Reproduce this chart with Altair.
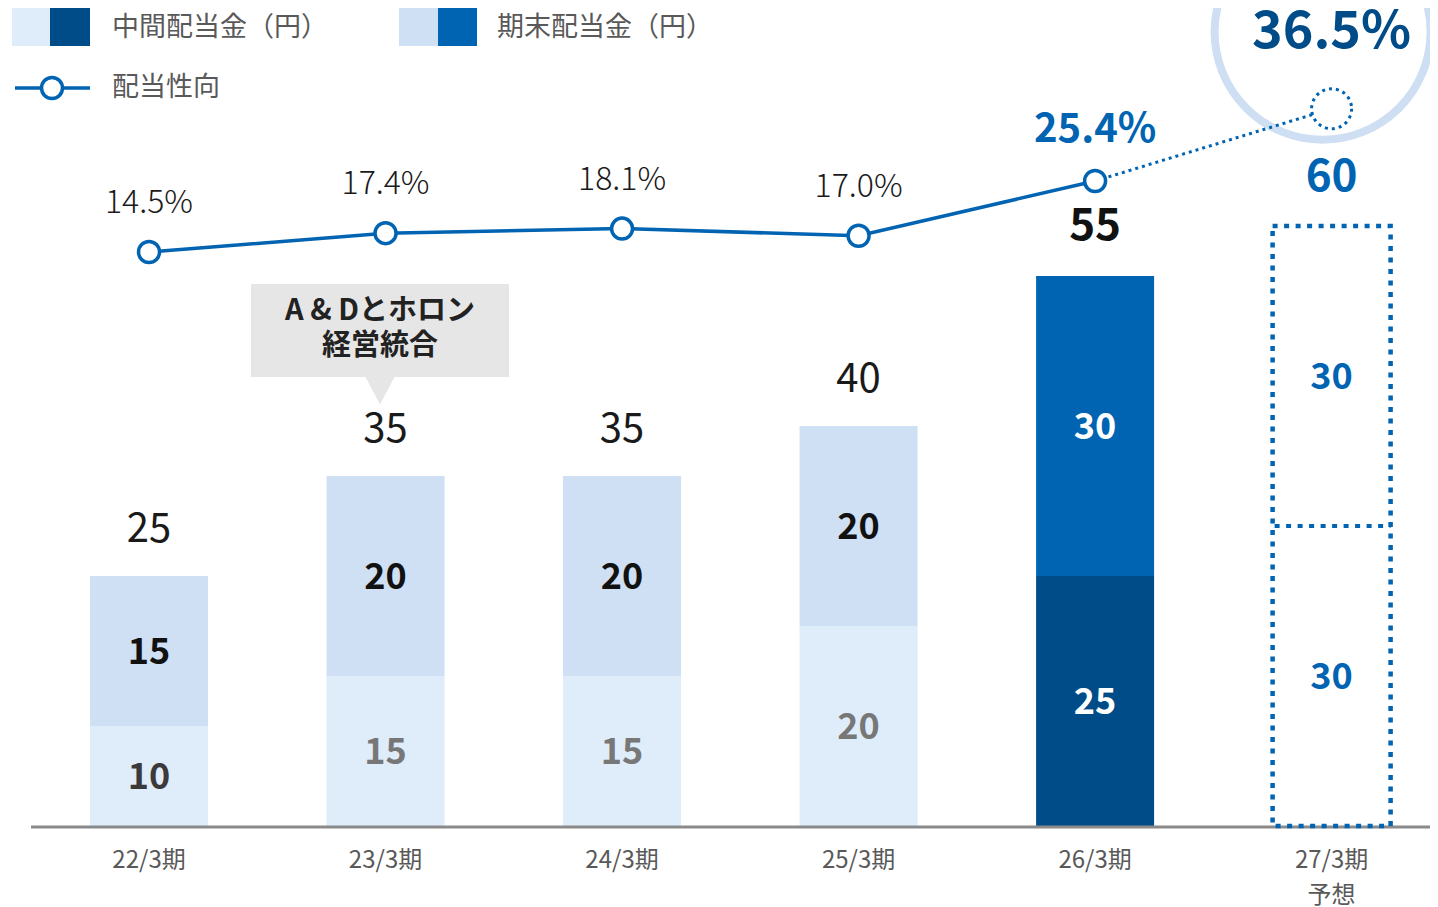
import altair as alt
import pandas as pd

# ---------------- data ----------------
periods = ["22/3期", "23/3期", "24/3期", "25/3期", "26/3期", "27/3期\n予想"]
interim = [10, 15, 15, 20, 25, 30]        # 中間配当金（円）
year_end = [15, 20, 20, 20, 30, 30]       # 期末配当金（円）
totals = [25, 35, 35, 40, 55, 60]
payout = [14.5, 17.4, 18.1, 17.0, 25.4, 36.5]   # 配当性向 (%)
legend_labels = ["中間配当金（円）", "期末配当金（円）", "配当性向"]
note_lines = ["A & Dとホロン", "経営統合"]

# ---------------- styles ----------------
FONT = "Noto Sans CJK JP"
BLUE = "#0064b2"
NAVY = "#004c88"
LIGHT1 = "#dfecfa"
LIGHT2 = "#cfdff4"
RING = "#cfdff3"

n = len(periods)
idx = list(range(n))
status = ["past"] * 4 + ["current", "forecast"]

seg_rows = []
for i in idx:
    lo = 0
    for kind, val in (("interim", interim[i]), ("year_end", year_end[i])):
        k = f"{status[i]}_{kind}"
        if k == "past_interim":
            lc = "dark" if i == 0 else "grey"
        elif k == "past_year_end":
            lc = "black"
        elif status[i] == "current":
            lc = "white"
        else:
            lc = "blue"
        seg_rows.append(dict(x=i, lo=lo, hi=lo + val, mid=lo + val / 2,
                             label=str(val), kind=k, lcol=lc))
        lo += val
segs = pd.DataFrame(seg_rows)
segs_actual = segs[segs.x < 5]

pts = pd.DataFrame({"x": idx, "payout": payout,
                    "label": [f"{p:.1f}%" for p in payout], "status": status})
tot = pd.DataFrame({"x": idx, "total": totals, "interim": interim,
                    "label": [str(t) for t in totals], "status": status})
fc = tot[tot.status == "forecast"]
xl = pd.DataFrame({"x": idx, "label": periods})

XS = alt.Scale(domain=[-0.499, 5.416], nice=False, zero=False, padding=0)
YB = alt.Scale(domain=[0, 78], nice=False, zero=False, padding=0)
YR = alt.Scale(domain=[-73.62, 46.13], nice=False, zero=False, padding=0)


def X():
    return alt.X("x:Q", scale=XS, axis=None)


layers = []

# stacked bars
layers.append(
    alt.Chart(segs_actual).mark_bar(size=118).encode(
        x=X(),
        y=alt.Y("lo:Q", scale=YB, axis=None),
        y2="hi:Q",
        color=alt.Color("kind:N", legend=None,
                        scale=alt.Scale(domain=["past_interim", "past_year_end",
                                                "current_interim", "current_year_end"],
                                        range=[LIGHT1, LIGHT2, NAVY, BLUE])),
    )
)
# baseline
layers.append(
    alt.Chart(pd.DataFrame({"t": [0]})).mark_rule(color="#8a8a8a", strokeWidth=3).encode(
        x=alt.value(0), x2=alt.value(1399), y=alt.value(781))
)
# forecast dotted box and divider
layers.append(
    alt.Chart(fc).mark_bar(size=118, fill="white", fillOpacity=0, stroke=BLUE,
                           strokeWidth=4.5, strokeDash=[5, 6.5]).encode(
        x=X(), y=alt.Y("total:Q", scale=YB, axis=None), y2=alt.datum(0))
)
layers.append(
    alt.Chart(fc).mark_rule(color=BLUE, strokeWidth=4, strokeDash=[5, 6.5],
                            xOffset=-57, x2Offset=59).encode(
        x=X(), x2="x:Q", y=alt.Y("interim:Q", scale=YB, axis=None))
)
# segment labels
layers.append(
    alt.Chart(segs).mark_text(font=FONT, fontSize=36, fontWeight="bold",
                              baseline="middle", dy=2).encode(
        x=X(), y=alt.Y("mid:Q", scale=YB, axis=None), text="label:N",
        color=alt.Color("lcol:N", legend=None,
                        scale=alt.Scale(domain=["dark", "grey", "black", "white", "blue"],
                                        range=["#3a3a3a", "#777777", "#111111", "#ffffff", BLUE])))
)
# totals
layers.append(
    alt.Chart(tot[tot.status == "past"]).mark_text(font=FONT, fontSize=40, fontWeight=400,
                                                   color="#1a1a1a", baseline="middle", dy=-46).encode(
        x=X(), y=alt.Y("total:Q", scale=YB, axis=None), text="label:N")
)
layers.append(
    alt.Chart(tot[tot.status == "current"]).mark_text(font=FONT, fontSize=44, fontWeight="bold",
                                                      color="#111111", baseline="middle", dy=-49).encode(
        x=X(), y=alt.Y("total:Q", scale=YB, axis=None), text="label:N")
)
layers.append(
    alt.Chart(fc).mark_text(font=FONT, fontSize=44, fontWeight="bold",
                            color=BLUE, baseline="middle", dy=-48).encode(
        x=X(), y=alt.Y("total:Q", scale=YB, axis=None), text="label:N")
)
# highlight ring around forecast payout
layers.append(
    alt.Chart(pts[pts.status == "forecast"]).mark_point(
        shape="circle", filled=False, color=RING, strokeWidth=8, size=46656,
        opacity=1, xOffset=-9, yOffset=-77).encode(
        x=X(), y=alt.Y("payout:Q", scale=YR, axis=None))
)
# payout line
layers.append(
    alt.Chart(pts[pts.x <= 4]).mark_line(color=BLUE, strokeWidth=3.5).encode(
        x=X(), y=alt.Y("payout:Q", scale=YR, axis=None))
)
layers.append(
    alt.Chart(pts[pts.x >= 4]).mark_line(color=BLUE, strokeWidth=3, strokeDash=[3, 4]).encode(
        x=X(), y=alt.Y("payout:Q", scale=YR, axis=None))
)
layers.append(
    alt.Chart(pts[pts.x <= 4]).mark_point(shape="circle", filled=True, fill="white", stroke=BLUE,
                                          strokeWidth=3.5, size=441, opacity=1).encode(
        x=X(), y=alt.Y("payout:Q", scale=YR, axis=None))
)
layers.append(
    alt.Chart(pts[pts.status == "forecast"]).mark_point(
        shape="circle", filled=True, fill="white", stroke=BLUE, strokeWidth=3,
        strokeDash=[3, 4], size=1600, opacity=1).encode(
        x=X(), y=alt.Y("payout:Q", scale=YR, axis=None))
)
# payout labels
layers.append(
    alt.Chart(pts[pts.status == "past"]).mark_text(font=FONT, fontSize=32, fontWeight=300,
                                                   color="#1a1a1a", baseline="middle", dy=-49).encode(
        x=X(), y=alt.Y("payout:Q", scale=YR, axis=None), text="label:N")
)
layers.append(
    alt.Chart(pts[pts.status == "current"]).mark_text(font=FONT, fontSize=40, fontWeight="bold",
                                                      color=BLUE, baseline="middle", dy=-51).encode(
        x=X(), y=alt.Y("payout:Q", scale=YR, axis=None), text="label:N")
)
layers.append(
    alt.Chart(pts[pts.status == "forecast"]).mark_text(font=FONT, fontSize=52, fontWeight="bold",
                                                       color=NAVY, baseline="middle", dy=-77).encode(
        x=X(), y=alt.Y("payout:Q", scale=YR, axis=None), text="label:N")
)
# x labels
layers.append(
    alt.Chart(xl).mark_text(font=FONT, fontSize=24, color="#595959", baseline="alphabetic",
                            lineBreak="\n", lineHeight=35).encode(
        x=X(), y=alt.value(822), text="label:N")
)


# ---------------- legend (custom) ----------------
def one(t=""):
    return pd.DataFrame({"t": [t]})


def rect(x1, x2, y1, y2, color):
    return alt.Chart(one()).mark_rect(color=color).encode(
        x=alt.value(x1), x2=alt.value(x2), y=alt.value(y1), y2=alt.value(y2))


def label(text, x, y):
    return alt.Chart(one(text)).mark_text(font=FONT, fontSize=27, color="#595959",
                                          align="left", baseline="middle").encode(
        x=alt.value(x), y=alt.value(y), text="t:N")


layers += [
    rect(-19, 19, -38, 0, LIGHT1), rect(19, 59, -38, 0, NAVY), label(legend_labels[0], 81, -18),
    rect(368, 407, -38, 0, LIGHT2), rect(407, 446, -38, 0, BLUE), label(legend_labels[1], 466, -18),
    alt.Chart(one()).mark_rule(color=BLUE, strokeWidth=3.5).encode(
        x=alt.value(-16), x2=alt.value(59), y=alt.value(42)),
    alt.Chart(one()).mark_point(shape="circle", filled=True, fill="white", stroke=BLUE,
                                strokeWidth=3.5, size=441, opacity=1).encode(
        x=alt.value(21), y=alt.value(42)),
    label(legend_labels[2], 81, 42),
]

# ---------------- callout ----------------
layers += [
    rect(220, 478, 238, 331, "#e6e6e6"),
    alt.Chart(one()).mark_point(shape="M-1,-1L1,-1L0,0.9Z", filled=True, color="#e6e6e6",
                                size=900, opacity=1).encode(x=alt.value(349), y=alt.value(345)),
    alt.Chart(one("\n".join(note_lines))).mark_text(
        font=FONT, fontSize=29, fontWeight="bold", color="#222222", align="center",
        baseline="alphabetic", lineBreak="\n", lineHeight=35).encode(
        x=alt.value(349), y=alt.value(274), text="t:N"),
]

chart = alt.layer(*layers).properties(
    width=1399, height=780,
    padding={"left": 23, "top": 38, "right": 0, "bottom": 81},
    autosize=alt.AutoSizeParams(type="none"),
).resolve_scale(y="independent", color="independent").configure_view(stroke=None)

chart.save("out.html", embed_options={"renderer": "svg", "actions": False})
